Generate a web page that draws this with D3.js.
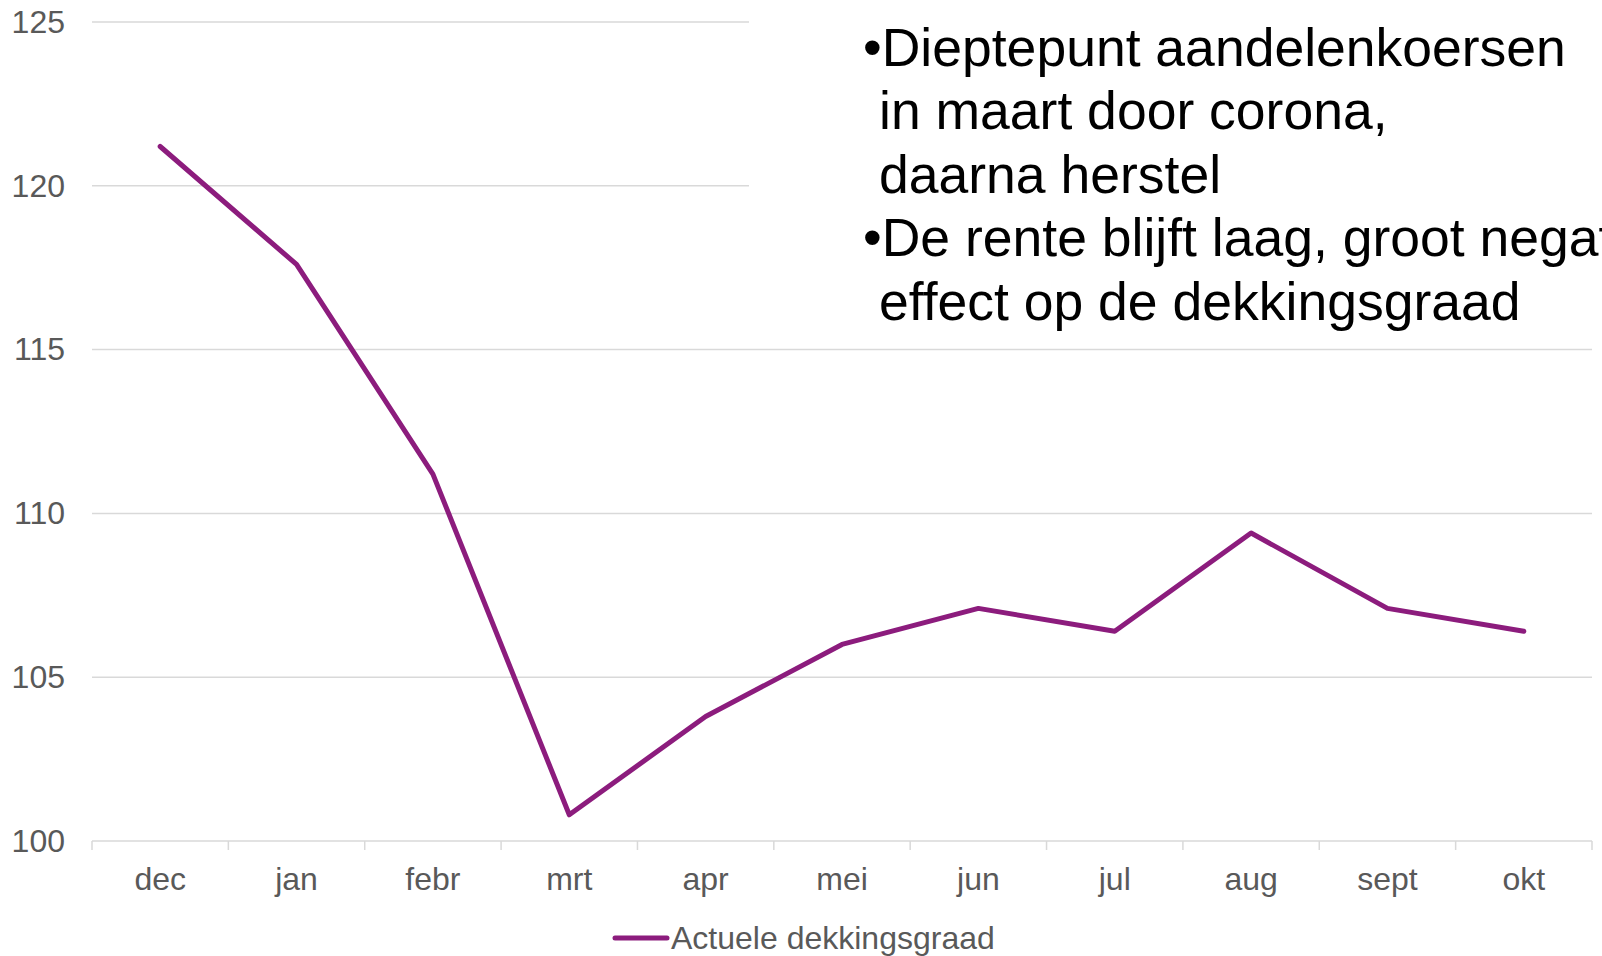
<!DOCTYPE html>
<html>
<head>
<meta charset="utf-8">
<script src="https://cdn.jsdelivr.net/npm/d3@7"></script>
<style>
  html, body { margin: 0; padding: 0; background: #fff; }
  svg { display: block; font-family: "Liberation Sans", Arial, sans-serif; }
</style>
</head>
<body>
<div id="chart"></div>
<script>
// Data
const months = ["dec", "jan", "febr", "mrt", "apr", "mei", "jun", "jul", "aug", "sept", "okt"];
const dekkingsgraad = [121.2, 117.6, 111.2, 100.8, 103.8, 106.0, 107.1, 106.4, 109.4, 107.1, 106.4];
const yTicks = [100, 105, 110, 115, 120, 125];
const seriesName = "Actuele dekkingsgraad";
const notes = [
  {bullet: true, text: "Dieptepunt aandelenkoersen"},
  {bullet: false, text: "in maart door corona,"},
  {bullet: false, text: "daarna herstel"},
  {bullet: true, text: "De rente blijft laag, groot negatief"},
  {bullet: false, text: "effect op de dekkingsgraad"}
];

const width = 1602, height = 956;
const margin = {top: 22, right: 10, bottom: 115, left: 92};
const lineColor = "#8c1c7d";
const grey = "#595959";

const svg = d3.select("#chart").append("svg")
  .attr("width", width)
  .attr("height", height);

const x = d3.scaleBand()
  .domain(months)
  .range([margin.left, width - margin.right])
  .padding(0);

const y = d3.scaleLinear()
  .domain([100, 125])
  .range([height - margin.bottom, margin.top]);

// gridlines
svg.append("g")
  .selectAll("line")
  .data(yTicks.filter(d => d > 100))
  .join("line")
  .attr("x1", margin.left)
  .attr("x2", width - margin.right)
  .attr("y1", d => y(d))
  .attr("y2", d => y(d))
  .attr("stroke", "#d9d9d9")
  .attr("stroke-width", 1.5);

// y labels
const yAxis = svg.append("g")
  .attr("transform", `translate(${margin.left - 27},0)`)
  .call(d3.axisLeft(y).tickValues(yTicks).tickSize(0).tickPadding(0));
yAxis.select(".domain").remove();
yAxis.selectAll("text")
  .attr("fill", grey)
  .style("font-size", "32px");

// x axis: base line + boundary ticks
const baseY = y(100);
svg.append("line")
  .attr("x1", margin.left).attr("x2", width - margin.right)
  .attr("y1", baseY).attr("y2", baseY)
  .attr("stroke", "#d9d9d9").attr("stroke-width", 1.5);

const bounds = months.map(m => x(m)).concat([x(months[months.length - 1]) + x.bandwidth()]);
svg.append("g")
  .selectAll("line")
  .data(bounds)
  .join("line")
  .attr("x1", d => d).attr("x2", d => d)
  .attr("y1", baseY).attr("y2", baseY + 9)
  .attr("stroke", "#d9d9d9").attr("stroke-width", 1.5);

const xAxis = svg.append("g")
  .attr("transform", `translate(0,${baseY})`)
  .call(d3.axisBottom(x).tickSize(0).tickPadding(26));
xAxis.select(".domain").remove();
xAxis.selectAll("text")
  .attr("fill", grey)
  .style("font-size", "32px");

// series line
const line = d3.line()
  .x((d, i) => x(months[i]) + x.bandwidth() / 2)
  .y(d => y(d));

svg.append("path")
  .datum(dekkingsgraad)
  .attr("d", line)
  .attr("fill", "none")
  .attr("stroke", lineColor)
  .attr("stroke-width", 5)
  .attr("stroke-linejoin", "round")
  .attr("stroke-linecap", "round");

// legend
const legend = svg.append("g").attr("transform", "translate(615,938)");
legend.append("line")
  .attr("x1", 0).attr("x2", 52)
  .attr("stroke", lineColor).attr("stroke-width", 5)
  .attr("stroke-linecap", "round");
legend.append("text")
  .attr("x", 56).attr("y", 11)
  .attr("fill", grey)
  .style("font-size", "32px")
  .text(seriesName);

// text box on top
svg.append("rect")
  .attr("x", 749).attr("y", 0)
  .attr("width", width - 749).attr("height", 340)
  .attr("fill", "#fff");

const noteText = svg.append("g")
  .style("font-size", "53.5px")
  .attr("fill", "#000");
noteText.selectAll("text")
  .data(notes)
  .join("text")
  .attr("x", d => d.bullet ? 863 : 879)
  .attr("y", (d, i) => 65.5 + i * 63.6)
  .text(d => (d.bullet ? "\u2022" : "") + d.text);
</script>
</body>
</html>
